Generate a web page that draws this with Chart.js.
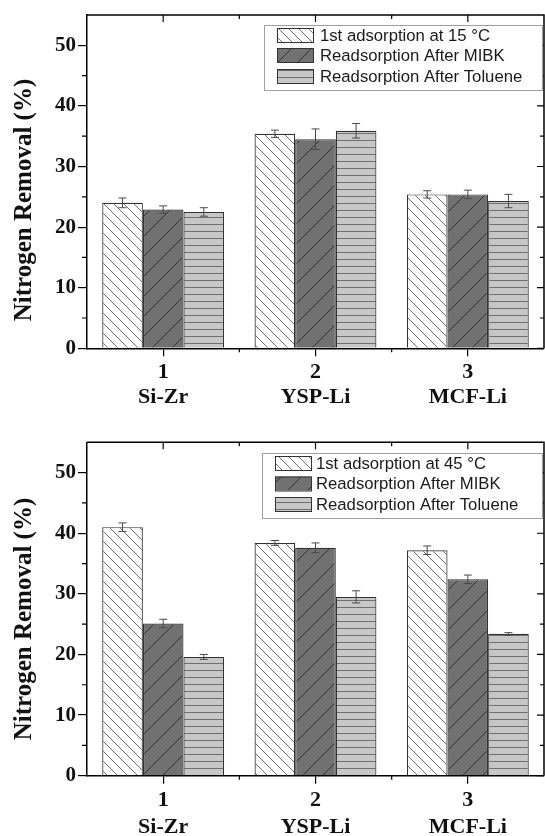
<!DOCTYPE html>
<html><head><meta charset="utf-8">
<script src="https://cdn.jsdelivr.net/npm/chart.js@4.4.1/dist/chart.umd.min.js"></script>
<style>
html,body{margin:0;padding:0;background:#fff;overflow:hidden;}
.wrap{position:relative;width:545px;height:418px;}
canvas{display:block;}
</style></head><body>
<div class="wrap"><canvas id="c1" width="545" height="418"></canvas></div>
<div class="wrap"><canvas id="c2" width="545" height="418"></canvas></div>
<script>
// ---------- DATA ----------
const categoryNumbers = ['1', '2', '3'];
const materials = ['Si-Zr', 'YSP-Li', 'MCF-Li'];
const yTicks = [0, 10, 20, 30, 40, 50];
const yMinorTicks = [5, 15, 25, 35, 45];
const yMax = 55;
const yTitle = 'Nitrogen Removal (%)';

const seriesNames15 = ['1st adsorption at 15 °C', 'Readsorption After MIBK', 'Readsorption After Toluene'];
const seriesNames45 = ['1st adsorption at 45 °C', 'Readsorption After MIBK', 'Readsorption After Toluene'];

const first15 = [24.0, 35.4, 25.4];
const first15Err = [0.8, 0.6, 0.6];
const mibk15 = [22.9, 34.5, 25.4];
const mibk15Err = [0.6, 1.7, 0.7];
const toluene15 = [22.5, 35.9, 24.3];
const toluene15Err = [0.7, 1.2, 1.1];

const first45 = [41.0, 38.4, 37.2];
const first45Err = [0.7, 0.4, 0.7];
const mibk45 = [25.1, 37.6, 32.4];
const mibk45Err = [0.7, 0.8, 0.7];
const toluene45 = [19.6, 29.5, 23.4];
const toluene45Err = [0.4, 1.0, 0.2];

// ---------- PATTERNS ----------
function makePattern(kind) {
  const c = document.createElement('canvas');
  const g = c.getContext('2d');
  if (kind === 'diagDown') {
    const s = 10; c.width = s; c.height = s;
    g.fillStyle = '#ffffff'; g.fillRect(0, 0, s, s);
    g.strokeStyle = '#707070'; g.lineWidth = 1;
    g.beginPath();
    g.moveTo(-2, -2); g.lineTo(s + 2, s + 2);
    g.moveTo(-2, s - 2); g.lineTo(2, s + 2);
    g.moveTo(s - 2, -2); g.lineTo(s + 2, 2);
    g.stroke();
  } else if (kind === 'diagUp') {
    const s = 20; c.width = s; c.height = s;
    g.fillStyle = '#717171'; g.fillRect(0, 0, s, s);
    g.strokeStyle = '#333333'; g.lineWidth = 1;
    g.beginPath();
    g.moveTo(-2, s + 2); g.lineTo(s + 2, -2);
    g.moveTo(-2, 2); g.lineTo(2, -2);
    g.moveTo(s - 2, s + 2); g.lineTo(s + 2, s - 2);
    g.stroke();
  } else {
    c.width = 8; c.height = 7;
    g.fillStyle = '#c7c7c7'; g.fillRect(0, 0, 8, 7);
    g.fillStyle = '#6f6f6f'; g.fillRect(0, 0, 8, 1);
  }
  return document.createElement('canvas').getContext('2d').createPattern(c, 'repeat');
}
const patterns = [makePattern('diagDown'), makePattern('diagUp'), makePattern('horiz')];

// ---------- PLUGINS ----------
const errorBarPlugin = {
  id: 'errorBars',
  afterDatasetsDraw(chart) {
    const ctx = chart.ctx, y = chart.scales.y;
    ctx.save();
    ctx.strokeStyle = '#4a4a4a'; ctx.lineWidth = 1;
    chart.data.datasets.forEach((ds, di) => {
      const meta = chart.getDatasetMeta(di);
      meta.data.forEach((bar, i) => {
        const v = ds.data[i], e = ds.errors[i];
        const yt = y.getPixelForValue(v + e), yb = y.getPixelForValue(v - e);
        const x = bar.x, cw = 4;
        ctx.beginPath();
        ctx.moveTo(x, yt); ctx.lineTo(x, yb);
        ctx.moveTo(x - cw, yt); ctx.lineTo(x + cw, yt);
        ctx.moveTo(x - cw, yb); ctx.lineTo(x + cw, yb);
        ctx.stroke();
      });
    });
    ctx.restore();
  }
};

const framePlugin = {
  id: 'frame',
  afterDraw(chart) {
    const ctx = chart.ctx, a = chart.chartArea, xs = chart.scales.x, ys = chart.scales.y;
    ctx.save();
    ctx.strokeStyle = '#000'; ctx.lineWidth = 1.5;
    ctx.beginPath();
    ctx.moveTo(a.left, a.top); ctx.lineTo(a.right, a.top); ctx.lineTo(a.right, a.bottom);
    ctx.stroke();
    ctx.lineWidth = 1.2;
    ctx.beginPath();
    const n = chart.data.labels.length;
    for (let i = 0; i < n; i++) {
      const px = xs.getPixelForValue(i);
      ctx.moveTo(px, a.top); ctx.lineTo(px, a.top + 7);
      if (i < n - 1) {
        const mx = (px + xs.getPixelForValue(i + 1)) / 2;
        ctx.moveTo(mx, a.bottom); ctx.lineTo(mx, a.bottom + 4);
        ctx.moveTo(mx, a.top); ctx.lineTo(mx, a.top + 4);
      }
    }
    yTicks.forEach(v => {
      const py = ys.getPixelForValue(v);
      ctx.moveTo(a.right, py); ctx.lineTo(a.right - 7, py);
    });
    yMinorTicks.forEach(v => {
      const py = ys.getPixelForValue(v);
      ctx.moveTo(a.left, py); ctx.lineTo(a.left - 5, py);
      ctx.moveTo(a.right, py); ctx.lineTo(a.right - 4, py);
    });
    ctx.stroke();
    // y axis title
    const o = chart.options.plugins.frame;
    ctx.translate(o.titleX, o.titleY);
    ctx.rotate(-Math.PI / 2);
    ctx.fillStyle = '#111';
    ctx.font = 'bold 25px "Liberation Serif", "Times New Roman", serif';
    ctx.textAlign = 'center'; ctx.textBaseline = 'middle';
    ctx.fillText(yTitle, 0, 0);
    ctx.restore();
  }
};

const boxLegendPlugin = {
  id: 'boxLegend',
  afterDraw(chart) {
    const o = chart.options.plugins.boxLegend;
    const ctx = chart.ctx;
    ctx.save();
    ctx.fillStyle = '#fff';
    ctx.fillRect(o.left, o.top, o.right - o.left, o.bottom - o.top);
    ctx.strokeStyle = '#a0a0a0'; ctx.lineWidth = 1;
    ctx.strokeRect(o.left + 0.5, o.top + 0.5, o.right - o.left, o.bottom - o.top);
    ctx.font = '16.7px "Liberation Sans", Arial, sans-serif';
    ctx.textBaseline = 'middle'; ctx.textAlign = 'left';
    chart.data.datasets.forEach((ds, i) => {
      const cy = o.rows[i];
      ctx.fillStyle = ds.backgroundColor;
      ctx.fillRect(o.swX, cy - o.swH / 2, o.swW, o.swH);
      ctx.strokeStyle = '#333'; ctx.lineWidth = 1;
      ctx.strokeRect(o.swX + 0.5, cy - o.swH / 2 + 0.5, o.swW, o.swH);
      ctx.fillStyle = '#1a1a1a';
      ctx.fillText(ds.label, o.textX, cy + 1);
    });
    ctx.restore();
  }
};

// ---------- CHART BUILDER ----------
function build(canvasId, names, vals, errs, cfg) {
  const labels = categoryNumbers.map((n, i) => [n, materials[i]]);
  const datasets = names.map((nm, i) => ({
    label: nm,
    data: vals[i],
    errors: errs[i],
    backgroundColor: patterns[i],
    borderColor: '#333',
    borderWidth: 1.2,
    borderSkipped: 'bottom',
    categoryPercentage: 0.8,
    barPercentage: 1.0
  }));
  return new Chart(document.getElementById(canvasId), {
    type: 'bar',
    data: { labels, datasets },
    plugins: [errorBarPlugin, framePlugin, boxLegendPlugin],
    options: {
      responsive: false,
      animation: false,
      devicePixelRatio: 1,
      layout: { padding: { left: 0, right: 1, top: cfg.top, bottom: 0 } },
      plugins: {
        legend: { display: false },
        tooltip: { enabled: false },
        frame: { titleX: 25, titleY: cfg.titleY },
        boxLegend: cfg.legend
      },
      scales: {
        x: {
          offset: true,
          grid: { offset: false, drawOnChartArea: false, drawTicks: true, tickLength: 8, color: '#000', lineWidth: 1.2 },
          border: { display: true, color: '#000', width: 1.5 },
          ticks: {
            color: '#111', padding: cfg.xPad, maxRotation: 0, autoSkip: false,
            font: { family: '"Liberation Serif", "Times New Roman", serif', weight: 'bold', size: 22, lineHeight: cfg.lh }
          },
          afterFit: s => { s.height = cfg.xH; }
        },
        y: {
          min: 0, max: yMax,
          afterBuildTicks: s => { s.ticks = yTicks.map(v => ({ value: v })); },
          grid: { drawOnChartArea: false, drawTicks: true, tickLength: 9, color: '#000', lineWidth: 1.2 },
          border: { display: true, color: '#000', width: 1.5 },
          ticks: {
            color: '#111', padding: 2,
            font: { family: '"Liberation Serif", "Times New Roman", serif', weight: 'bold', size: 21 }
          },
          afterFit: s => { s.width = 87; }
        }
      }
    }
  });
}

build('c1', seriesNames15, [first15, mibk15, toluene15], [first15Err, mibk15Err, toluene15Err], {
  top: 15, xH: 69.7, xPad: 3, lh: 1.14, titleY: 200,
  legend: { left: 264, top: 25, right: 542, bottom: 90, rows: [35, 55, 76], swX: 277, swW: 36, swH: 14, textX: 320 }
});
build('c2', seriesNames45, [first45, mibk45, toluene45], [first45Err, mibk45Err, toluene45Err], {
  top: 24.3, xH: 60.3, xPad: 2.5, lh: 1.26, titleY: 201,
  legend: { left: 262, top: 35, right: 542, bottom: 100, rows: [45, 65.5, 86], swX: 275, swW: 36, swH: 14, textX: 316 }
});
</script>
</body></html>
